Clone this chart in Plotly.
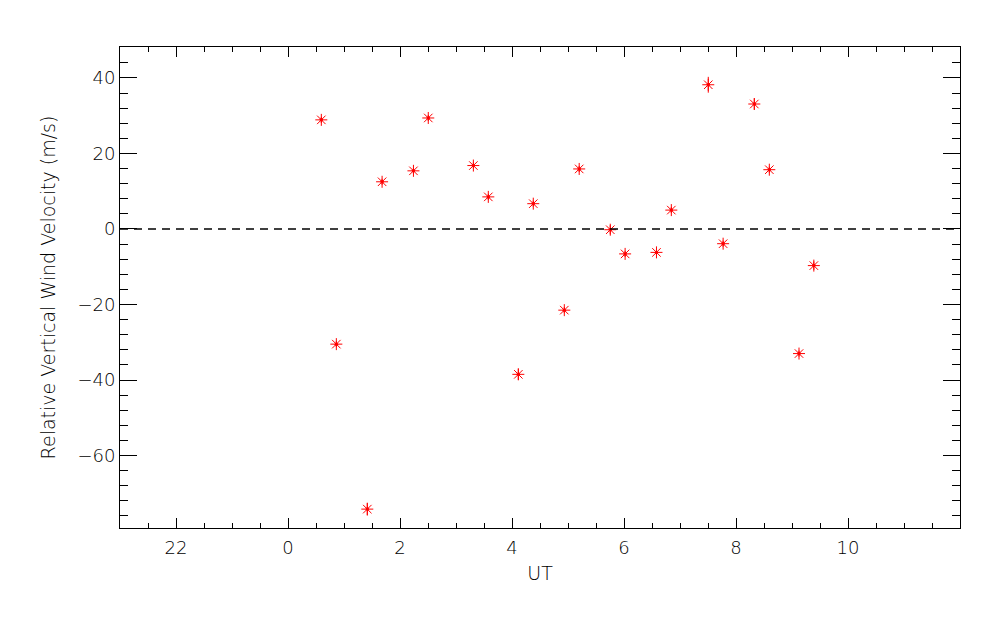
import plotly.graph_objects as go

ut = [0.595, 0.863, 1.416, 1.68, 2.24, 2.505, 3.31, 3.577, 4.113, 4.38, 4.934,
      5.20, 5.755, 6.02, 6.58, 6.845, 7.505, 7.77, 8.327, 8.595, 9.125, 9.39]
vel = [28.9, -30.5, -74.2, 12.5, 15.4, 29.4, 16.8, 8.5, -38.5, 6.7, -21.5,
       15.9, -0.2, -6.6, -6.2, 5.0, 38.2, -3.9, 33.1, 15.7, -33.0, -9.7]
err = [0.8, 0.8, 1.7, 0.8, 0.8, 0.8, 0.8, 0.8, 1.5, 0.8, 0.8,
       0.8, 1.2, 0.8, 0.8, 0.8, 2.1, 0.8, 1.5, 0.8, 0.8, 1.1]

xtick_vals = [-2, 0, 2, 4, 6, 8, 10]
xtick_text = ["22", "0", "2", "4", "6", "8", "10"]
ytick_vals = [-60, -40, -20, 0, 20, 40]

fig = go.Figure()
fig.add_trace(go.Scatter(
    x=ut, y=vel, mode="markers",
    marker=dict(symbol="asterisk-open", size=10, color="red",
                line=dict(color="red", width=1)),
    error_y=dict(type="data", array=err, visible=True, color="red",
                 thickness=1, width=0),
    showlegend=False, hoverinfo="x+y"))
fig.add_trace(go.Scatter(
    x=ut, y=vel, mode="markers",
    marker=dict(symbol="circle", size=3.5, color="red"),
    showlegend=False, hoverinfo="skip"))

fig.add_shape(type="line", xref="paper", yref="y", x0=0, x1=1, y0=0, y1=0,
              line=dict(color="black", width=1.3, dash="8px,6px"))

font = dict(family="DejaVu Sans", size=18, color="black", weight=300)
tfont = dict(family="DejaVu Sans", size=19, color="black", weight=300)

fig.update_layout(
    width=984, height=609,
    margin=dict(l=112, r=32, t=39, b=89),
    paper_bgcolor="white", plot_bgcolor="white",
    font=font,
    xaxis=dict(range=[-3, 12], tickvals=xtick_vals, ticktext=xtick_text,
               ticks="inside", ticklen=10, tickwidth=1, tickcolor="black",
               showline=True, linecolor="black", linewidth=1, mirror="ticks",
               showgrid=False, zeroline=False, ticklabelstandoff=3,
               minor=dict(dtick=0.5, tick0=0, ticks="inside", ticklen=5,
                          tickwidth=1, tickcolor="black", showgrid=False),
               title=dict(text="UT", standoff=10, font=tfont),
               tickfont=font),
    yaxis=dict(range=[-79.2, 48.2], tickvals=ytick_vals,
               ticks="inside", ticklen=17, tickwidth=1, tickcolor="black",
               showline=True, linecolor="black", linewidth=1, mirror="ticks",
               showgrid=False, zeroline=False,
               minor=dict(dtick=4, tick0=0, ticks="inside", ticklen=8,
                          tickwidth=1, tickcolor="black", showgrid=False),
               title=dict(text="Relative Vertical Wind Velocity (m/s)",
                          standoff=16, font=tfont),
               tickfont=font),
)

fig.write_html("out.html")
